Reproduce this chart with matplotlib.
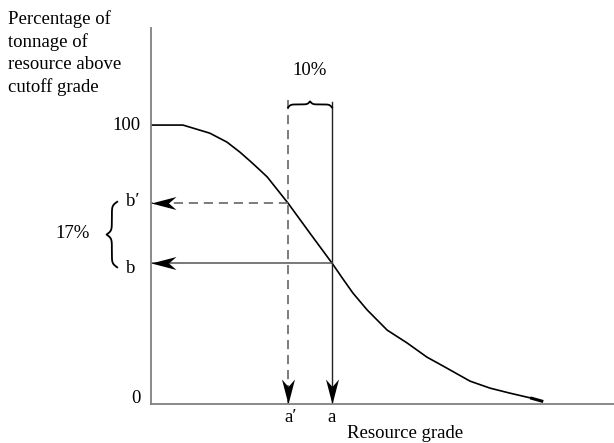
import numpy as np
import matplotlib
matplotlib.use('Agg')
import matplotlib.pyplot as plt
from matplotlib.path import Path

plt.rcParams['font.family'] = ['Liberation Serif', 'DejaVu Serif']

# grade-tonnage curve (grade in arbitrary units, tonnage in % above cutoff)
grade = [0, 6.9, 9.1, 12.7, 16.4, 19.2, 21.4, 23.5, 25.1, 29.6, 34.3, 39.1, 41.3,
         43.6, 46.7, 51.0, 55.3, 59.6, 63.1, 68.9, 73.2, 77.5, 81.9, 84.7]
tonnage = [100, 100, 98.9, 97.1, 93.9, 90.3, 87.1, 83.9, 81.4, 72.0, 61.3, 50.5, 45.2,
           39.8, 33.7, 26.5, 21.9, 16.8, 13.6, 8.2, 5.7, 3.9, 2.2, 0.9]

# cutoff grades and matching tonnages
a_prime, a = 29.6, 39.1
b_prime, b = 72.0, 50.5

ylabel_lines = ['Percentage of', 'tonnage of', 'resource above', 'cutoff grade']


def stealth(direction):
    # arrow head with notch, tip at (0, 0), pointing left before rotation
    verts = np.array([[0, 0], [1, 0.26], [0.7, 0], [1, -0.26], [0, 0]])
    ang = {'left': 0, 'down': np.pi / 2}[direction]
    rot = np.array([[np.cos(ang), -np.sin(ang)], [np.sin(ang), np.cos(ang)]])
    return Path(verts @ rot.T, closed=True)


def brace(p0, p1, depth, k=35):
    # curly brace profile from p0 to p1, point sticking out by depth
    half = np.linspace(0, 0.5, 100)
    yh = 1 / (1 + np.exp(-k * (half - half[0]))) + 1 / (1 + np.exp(-k * (half - half[-1])))
    prof = np.concatenate((yh, yh[-2::-1])) - 0.5
    t = np.linspace(0, 1, len(prof))
    return p0 + t * (p1 - p0), prof * depth


fig = plt.figure(figsize=(6.14, 4.43), dpi=100)
ax = fig.add_axes([151 / 614, 39 / 443, 463 / 614, 376 / 443])
ax.set_xlim(0, 100)
ax.set_ylim(0, 134.8)
for s in ['top', 'right']:
    ax.spines[s].set_visible(False)
for s in ['left', 'bottom']:
    ax.spines[s].set_color('#808080')
    ax.spines[s].set_linewidth(1.3)
ax.set_xticks([])
ax.set_yticks([])

ax.plot(grade, tonnage, color='black', lw=1.2, solid_capstyle='butt')
ax.plot(grade[-2:], tonnage[-2:], color='black', lw=2.2, solid_capstyle='butt')

dash = (5.5, 3.5)
# dashed: cutoff a' down, tonnage b' across
ax.plot([a_prime, a_prime], [109, 0], color='#666666', lw=1.2, dashes=dash)
ax.plot([a_prime, 0], [b_prime, b_prime], color='#666666', lw=1.2, dashes=dash)
# solid: cutoff a down, tonnage b across
ax.plot([a, a], [108.2, 0], color='#222222', lw=1.0)
ax.plot([a, 0], [b, b], color='#555555', lw=1.1)

ms = 36
ax.plot([a_prime, a], [0, 0], ls='none', marker=stealth('down'), ms=ms,
        color='black', mec='black', mew=0, clip_on=False)
ax.plot([0, 0], [b_prime, b], ls='none', marker=stealth('left'), ms=ms,
        color='black', mec='black', mew=0, clip_on=False)

# braces
bx, by = brace(a_prime, a, 2.2)
ax.plot(bx, 106.3 + by, color='black', lw=1.3, clip_on=False)
cy, cx = brace(b_prime + 0.5, b - 1.5, 2.3)
ax.plot(-7.3 - cx, cy, color='black', lw=1.3, clip_on=False)

fs = 13.5
ax.text((a_prime + a) / 2, 119.7, '10%', ha='center', va='center', fontsize=fs)
ax.text(-17.0, (b_prime + b) / 2, '17%', ha='center', va='center', fontsize=fs)
ax.text(-5.3, b_prime + 0.5, 'b′', ha='left', va='center', fontsize=fs, clip_on=False)
ax.text(-5.3, b - 1.8, 'b', ha='left', va='center', fontsize=fs, clip_on=False)
ax.text(a_prime + 0.6, -4.7, 'a′', ha='center', va='center', fontsize=fs)
ax.text(a, -4.7, 'a', ha='center', va='center', fontsize=fs)
ax.text(-2.2, 100, '100', ha='right', va='center', fontsize=fs)
ax.text(-2.2, 1.8, '0', ha='right', va='center', fontsize=fs)
ax.text(54.9, -10.6, 'Resource grade', ha='center', va='center', fontsize=fs)

fig.text(8 / 614, 1 - 10 / 443, '\n'.join(ylabel_lines), ha='left', va='top',
         fontsize=fs, linespacing=1.37)

fig.savefig('out.png', dpi=100)
